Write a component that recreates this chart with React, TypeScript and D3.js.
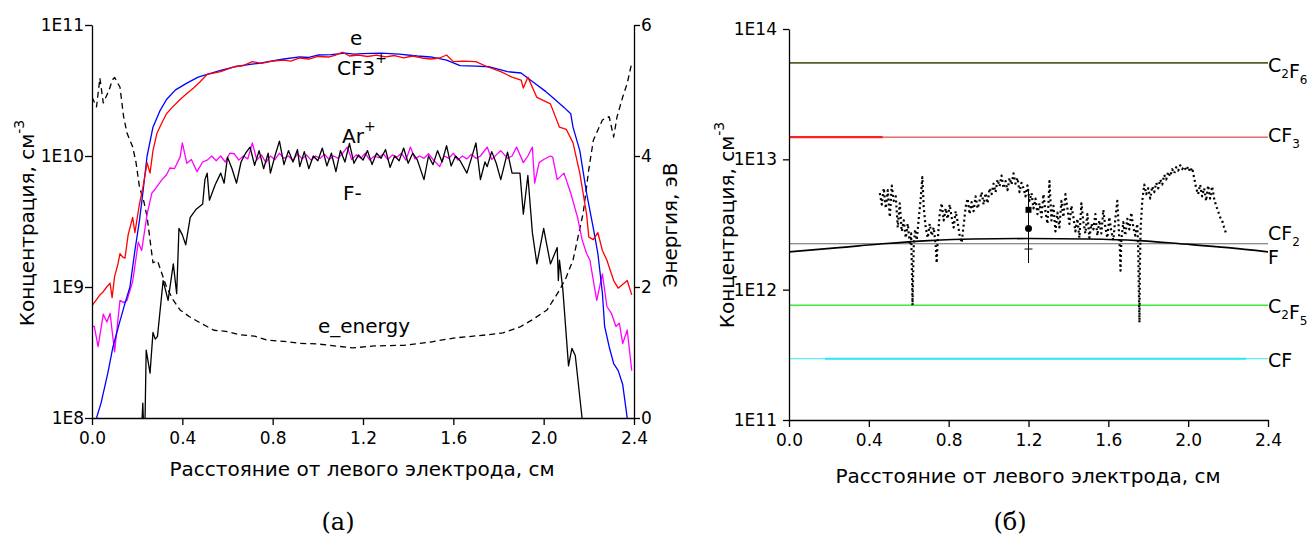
import React, { useEffect, useRef } from 'react';
import * as d3 from 'd3';

type Pt = [number, number];

const FONT = '"DejaVu Sans", "Liberation Sans", Arial, sans-serif';

// shared x axis (distance from left electrode, cm)
const X_TICKS = [0, 0.4, 0.8, 1.2, 1.6, 2.0, 2.4];
const X_MINOR_TICKS = [0.2, 0.6, 1.0, 1.4, 1.8, 2.2];

// panel (a)
const CONC_TICKS_A = [1e8, 1e9, 1e10, 1e11];
const ENERGY_TICKS = [0, 2, 4, 6];
const ENERGY_MINOR_TICKS = [1, 3, 5];

// electrons, cm^-3
const electrons: Pt[] = [
  [0.02, 1.0e8], [0.04, 1.3e8], [0.07, 2.2e8], [0.093, 3.5e8], [0.12, 5.2e8], [0.145, 7.4e8],
  [0.168, 1.0e9], [0.19, 1.9e9], [0.21, 3.2e9], [0.225, 5.2e9], [0.244, 1.0e10], [0.27, 1.66e10],
  [0.3, 2.2e10], [0.33, 2.7e10], [0.37, 3.2e10], [0.42, 3.6e10], [0.47, 4.0e10], [0.51, 4.2e10],
  [0.57, 4.5e10], [0.63, 4.8e10], [0.7, 5.0e10], [0.74, 5.1e10], [0.78, 5.25e10], [0.85, 5.5e10],
  [0.92, 5.7e10], [0.96, 5.65e10], [1.0, 5.9e10], [1.06, 5.95e10], [1.12, 6.1e10], [1.16, 6.0e10],
  [1.2, 6.05e10], [1.28, 6.1e10], [1.36, 6.0e10], [1.44, 5.8e10], [1.5, 5.7e10], [1.57, 5.4e10],
  [1.63, 4.9e10], [1.7, 4.85e10], [1.76, 4.8e10], [1.84, 4.4e10], [1.9, 4.3e10], [1.95, 3.7e10],
  [2.01, 3.1e10], [2.04, 2.8e10], [2.09, 2.35e10], [2.12, 2.1e10], [2.13, 1.66e10], [2.16, 1.1e10],
  [2.19, 5.2e9], [2.22, 2.8e9], [2.24, 1.8e9], [2.26, 9e8], [2.27, 5e8], [2.29, 3.5e8],
  [2.31, 2.6e8], [2.33, 2.3e8], [2.35, 1.8e8], [2.37, 1.0e8], [2.38, 8e7],
];

// CF3+ ions
const cf3Ions: Pt[] = [
  [0.0, 7.2e8], [0.02, 8.0e8], [0.035, 8.7e8], [0.05, 9.2e8], [0.065, 1.0e9], [0.08, 1.07e9],
  [0.089, 8.3e8], [0.1, 1.2e9], [0.115, 1.5e9], [0.124, 1.8e9], [0.135, 1.7e9], [0.146, 1.66e9],
  [0.16, 2.5e9], [0.18, 3.4e9], [0.19, 2.6e9], [0.21, 4.3e9], [0.226, 5.8e9], [0.244, 8.9e9],
  [0.257, 7.4e9], [0.27, 1.1e10], [0.288, 1.5e10], [0.31, 1.8e10], [0.33, 2.1e10], [0.35, 2.3e10],
  [0.39, 2.7e10], [0.42, 3.0e10], [0.45, 3.3e10], [0.48, 3.7e10], [0.51, 4.2e10], [0.57, 4.4e10],
  [0.6, 4.6e10], [0.63, 4.8e10], [0.67, 4.9e10], [0.71, 5.25e10], [0.75, 5.1e10], [0.8, 5.3e10],
  [0.85, 5.4e10], [0.88, 5.3e10], [0.92, 5.6e10], [0.96, 5.5e10], [1.0, 5.75e10], [1.05, 5.7e10],
  [1.08, 5.9e10], [1.11, 6.2e10], [1.14, 5.8e10], [1.18, 5.9e10], [1.22, 5.75e10], [1.26, 5.9e10],
  [1.3, 5.7e10], [1.34, 5.85e10], [1.38, 5.6e10], [1.42, 5.8e10], [1.46, 5.6e10], [1.5, 5.5e10],
  [1.54, 5.6e10], [1.57, 5.9e10], [1.6, 5.25e10], [1.64, 5.3e10], [1.7, 5.25e10], [1.75, 4.8e10],
  [1.81, 4.4e10], [1.86, 4.0e10], [1.9, 3.8e10], [1.91, 3.3e10], [1.93, 4.0e10], [1.97, 2.8e10],
  [2.03, 2.5e10], [2.07, 1.66e10], [2.1, 1.6e10], [2.13, 1.26e10], [2.16, 7.4e9], [2.19, 3.6e9],
  [2.2, 2.4e9], [2.22, 2.3e9], [2.24, 2.6e9], [2.26, 1.9e9], [2.28, 1.6e9], [2.31, 1.12e9],
  [2.33, 9.8e8], [2.37, 1.12e9], [2.39, 8.7e8],
];

// Ar+ ions
const arIons: Pt[] = [
  [0.0, 5.0e8], [0.01, 5.0e8], [0.027, 3.5e8], [0.05, 6.2e8], [0.066, 5.4e8], [0.08, 6.3e8],
  [0.1, 3.2e8], [0.124, 7.9e8], [0.14, 7.6e8], [0.155, 7.9e8], [0.18, 1.1e9], [0.205, 2.2e9],
  [0.22, 1.9e9], [0.244, 3.6e9], [0.265, 5.2e9], [0.28, 5.6e9], [0.31, 6.6e9], [0.33, 7.2e9],
  [0.345, 8.1e9], [0.365, 8.0e9], [0.39, 9.8e9], [0.4, 1.26e10], [0.42, 8.8e9], [0.44, 9.4e9],
  [0.465, 7.6e9], [0.49, 9.0e9], [0.51, 9.3e9], [0.53, 1.0e10], [0.55, 9.2e9], [0.57, 1.0e10],
  [0.59, 9.0e9], [0.61, 1.05e10], [0.63, 1.04e10], [0.65, 9.3e9], [0.67, 1.0e10], [0.69, 9.5e9],
  [0.71, 1.26e10], [0.73, 9.3e9], [0.75, 1.02e10], [0.77, 8.9e9], [0.79, 1.0e10], [0.81, 9.4e9],
  [0.83, 1.05e10], [0.85, 9.6e9], [0.87, 1.0e10], [0.89, 9.2e9], [0.91, 1.04e10], [0.93, 9.5e9],
  [0.95, 1.02e10], [0.97, 9.3e9], [0.99, 1.0e10], [1.01, 9.6e9], [1.03, 1.03e10], [1.05, 9.4e9],
  [1.07, 1.0e10], [1.09, 9.6e9], [1.11, 1.05e10], [1.13, 1.17e10], [1.15, 9.4e9], [1.17, 1.02e10],
  [1.19, 9.6e9], [1.21, 1.05e10], [1.23, 9.3e9], [1.25, 1.0e10], [1.27, 9.7e9], [1.29, 1.04e10],
  [1.31, 9.4e9], [1.33, 1.02e10], [1.35, 9.8e9], [1.37, 1.05e10], [1.39, 9.3e9], [1.41, 1.17e10],
  [1.43, 9.5e9], [1.45, 1.0e10], [1.47, 9.6e9], [1.49, 1.04e10], [1.51, 9.4e9], [1.54, 8.3e9],
  [1.56, 1.0e10], [1.58, 9.6e9], [1.6, 1.05e10], [1.62, 9.3e9], [1.64, 1.0e10], [1.66, 9.5e9],
  [1.68, 1.03e10], [1.7, 9.6e9], [1.72, 1.0e10], [1.75, 1.17e10], [1.77, 9.4e9], [1.79, 1.02e10],
  [1.81, 1.1e10], [1.84, 9.6e9], [1.86, 1.0e10], [1.88, 1.17e10], [1.91, 8.9e9], [1.93, 1.0e10],
  [1.95, 1.17e10], [1.96, 6.2e9], [1.98, 8.9e9], [2.0, 9.4e9], [2.03, 1.0e10], [2.04, 9.8e9],
  [2.06, 6.6e9], [2.09, 7.4e9], [2.12, 5.2e9], [2.15, 3.4e9], [2.17, 2.3e9], [2.19, 1.8e9],
  [2.205, 1.6e9], [2.22, 1.12e9], [2.235, 7.9e8], [2.26, 1.26e9], [2.28, 7.1e8], [2.3, 6.3e8],
  [2.32, 5.0e8], [2.335, 5.3e8], [2.35, 3.7e8], [2.37, 4.7e8], [2.39, 2.3e8],
];

// F- ions
const fIons: Pt[] = [
  [0.215, 6e7], [0.222, 1.0e8], [0.225, 1.3e8], [0.228, 9e7], [0.235, 1.0e8], [0.24, 3.3e8],
  [0.257, 2.2e8], [0.27, 4.5e8], [0.28, 4.0e8], [0.29, 4.2e8], [0.315, 1.12e9], [0.337, 7.9e8],
  [0.36, 1.5e9], [0.375, 8.9e8], [0.385, 2.8e9], [0.4, 2.5e9], [0.415, 2.1e9], [0.435, 3.4e9],
  [0.46, 3.9e9], [0.49, 4.3e9], [0.5, 6.6e9], [0.51, 7.4e9], [0.52, 4.6e9], [0.545, 6.0e9],
  [0.57, 7.4e9], [0.585, 6.2e9], [0.6, 9.8e9], [0.62, 8.0e9], [0.64, 6.2e9], [0.66, 9.0e9],
  [0.68, 1.05e10], [0.7, 1.17e10], [0.72, 8.5e9], [0.74, 1.1e10], [0.76, 8.0e9], [0.78, 1.05e10],
  [0.79, 7.4e9], [0.81, 1.0e10], [0.83, 1.3e10], [0.85, 8.6e9], [0.87, 1.1e10], [0.89, 9.0e9],
  [0.91, 1.12e10], [0.92, 8.3e9], [0.94, 1.08e10], [0.96, 8.0e9], [0.98, 1.0e10], [1.0, 9.2e9],
  [1.02, 1.15e10], [1.04, 8.4e9], [1.06, 1.05e10], [1.08, 7.6e9], [1.1, 1.1e10], [1.12, 9.0e9],
  [1.14, 1.25e10], [1.16, 8.8e9], [1.18, 1.02e10], [1.2, 9.3e9], [1.22, 1.1e10], [1.24, 8.6e9],
  [1.26, 1.05e10], [1.28, 9.6e9], [1.3, 1.12e10], [1.32, 8.2e9], [1.34, 1.0e10], [1.36, 9.2e9],
  [1.38, 1.15e10], [1.4, 8.8e9], [1.42, 1.05e10], [1.44, 9.4e9], [1.47, 6.6e9], [1.49, 1.0e10],
  [1.51, 8.6e9], [1.53, 1.1e10], [1.55, 9.0e9], [1.57, 1.2e10], [1.59, 8.4e9], [1.61, 1.0e10],
  [1.63, 9.2e9], [1.66, 7.4e9], [1.68, 9.6e9], [1.7, 1.26e10], [1.72, 6.6e9], [1.74, 9.0e9],
  [1.75, 8.3e9], [1.77, 1.08e10], [1.79, 8.8e9], [1.81, 6.6e9], [1.84, 1.07e10], [1.86, 7.4e9],
  [1.895, 7.4e9], [1.91, 3.6e9], [1.93, 7.1e9], [1.95, 2.6e9], [1.97, 1.5e9], [2.0, 2.8e9],
  [2.03, 1.5e9], [2.06, 2.0e9], [2.065, 1.12e9], [2.07, 1.6e9], [2.085, 9.5e8], [2.11, 2.5e8],
  [2.125, 3.4e8], [2.14, 3.0e8], [2.17, 1.0e8], [2.19, 5e7],
];

// mean electron energy, eV (right axis)
const electronEnergy: Pt[] = [
  [0.0, 4.9], [0.02, 4.75], [0.035, 5.19], [0.05, 4.81], [0.075, 5.0], [0.09, 5.16], [0.1, 5.2],
  [0.124, 5.05], [0.14, 4.6], [0.155, 4.35], [0.18, 4.14], [0.195, 3.9], [0.21, 3.53], [0.23, 3.3],
  [0.244, 3.07], [0.27, 2.37], [0.29, 2.4], [0.33, 2.0], [0.36, 1.8], [0.39, 1.65], [0.43, 1.55],
  [0.48, 1.45], [0.54, 1.34], [0.6, 1.32], [0.655, 1.27], [0.72, 1.25], [0.775, 1.19], [0.85, 1.17],
  [0.92, 1.14], [1.0, 1.13], [1.05, 1.11], [1.155, 1.07], [1.25, 1.1], [1.38, 1.11], [1.5, 1.16],
  [1.6, 1.22], [1.75, 1.27], [1.82, 1.3], [1.895, 1.39], [1.95, 1.5], [2.015, 1.65], [2.07, 1.95],
  [2.1, 2.15], [2.13, 2.41], [2.175, 3.13], [2.2, 3.8], [2.22, 4.24], [2.26, 4.55], [2.29, 4.6],
  [2.31, 4.29], [2.325, 4.6], [2.35, 4.9], [2.37, 5.11], [2.39, 5.42],
];

// panel (б)
const CONC_TICKS_B = [1e11, 1e12, 1e13, 1e14];

const LEVEL_C2F6 = 5.5e13;
const LEVEL_CF3 = 1.48e13;
const LEVEL_CF2 = 2.25e12;
const LEVEL_C2F5 = 7.6e11;
const LEVEL_CF = 2.95e11;

const fAtoms: Pt[] = [
  [0.0, 1.95e12], [0.25, 2.1e12], [0.47, 2.25e12], [0.7, 2.38e12], [0.92, 2.45e12], [1.2, 2.47e12],
  [1.5, 2.45e12], [1.75, 2.38e12], [1.96, 2.25e12], [2.2, 2.1e12], [2.4, 1.95e12],
];

// measured points (dotted)
const measured: Pt[] = [
  [0.455, 5.5e12], [0.465, 4.5e12], [0.475, 6.0e12], [0.485, 4.2e12], [0.495, 5.8e12], [0.505, 3.6e12],
  [0.515, 6.3e12], [0.525, 4.8e12], [0.535, 5.2e12], [0.545, 3.0e12], [0.555, 4.6e12], [0.565, 2.8e12],
  [0.575, 3.4e12], [0.585, 2.5e12], [0.595, 3.2e12], [0.605, 2.3e12], [0.612, 2.7e12], [0.615, 1.6e12],
  [0.617, 1.1e12], [0.619, 7.6e11], [0.622, 1.3e12], [0.625, 2.2e12], [0.632, 2.9e12], [0.64, 2.4e12],
  [0.65, 3.5e12], [0.66, 5.0e12], [0.668, 7.3e12], [0.675, 4.3e12], [0.685, 3.0e12], [0.695, 2.5e12],
  [0.705, 3.2e12], [0.715, 2.6e12], [0.725, 3.0e12], [0.735, 2.2e12], [0.74, 1.6e12], [0.745, 2.4e12],
  [0.755, 3.8e12], [0.765, 4.6e12], [0.775, 3.4e12], [0.785, 4.2e12], [0.795, 3.5e12], [0.805, 4.5e12],
  [0.815, 3.6e12], [0.825, 3.0e12], [0.835, 4.0e12], [0.845, 3.3e12], [0.855, 2.6e12], [0.865, 2.3e12],
  [0.875, 3.1e12], [0.885, 4.3e12], [0.895, 5.0e12], [0.905, 3.8e12], [0.915, 4.7e12], [0.925, 4.0e12],
  [0.935, 5.2e12], [0.945, 4.2e12], [0.955, 4.8e12], [0.965, 5.6e12], [0.975, 4.5e12], [0.985, 5.5e12],
  [0.995, 4.6e12], [1.005, 6.0e12], [1.015, 5.4e12], [1.025, 6.5e12], [1.035, 5.6e12], [1.045, 7.0e12],
  [1.055, 6.2e12], [1.065, 7.5e12], [1.075, 6.0e12], [1.085, 6.8e12], [1.095, 5.8e12], [1.105, 7.2e12],
  [1.115, 6.4e12], [1.125, 7.8e12], [1.135, 6.5e12], [1.145, 7.2e12], [1.155, 5.6e12], [1.165, 6.6e12],
  [1.175, 6.0e12], [1.185, 5.2e12], [1.195, 6.3e12], [1.205, 4.8e12], [1.215, 5.5e12], [1.225, 4.2e12],
  [1.235, 5.0e12], [1.245, 3.8e12], [1.255, 4.6e12], [1.265, 3.6e12], [1.275, 5.4e12], [1.285, 4.0e12],
  [1.295, 3.2e12], [1.305, 6.8e12], [1.315, 3.4e12], [1.325, 4.4e12], [1.335, 2.8e12], [1.345, 3.9e12],
  [1.355, 3.0e12], [1.365, 4.8e12], [1.375, 3.6e12], [1.385, 5.4e12], [1.395, 4.2e12], [1.405, 3.2e12],
  [1.415, 4.4e12], [1.425, 3.6e12], [1.435, 2.8e12], [1.445, 3.5e12], [1.455, 2.5e12], [1.465, 4.6e12],
  [1.475, 3.3e12], [1.485, 2.7e12], [1.495, 3.8e12], [1.505, 2.5e12], [1.515, 3.2e12], [1.525, 2.9e12],
  [1.535, 3.8e12], [1.545, 2.6e12], [1.555, 3.4e12], [1.565, 2.7e12], [1.575, 4.1e12], [1.585, 3.0e12],
  [1.595, 2.5e12], [1.605, 3.6e12], [1.615, 2.8e12], [1.625, 2.4e12], [1.635, 3.5e12], [1.645, 4.8e12],
  [1.652, 3.0e12], [1.658, 2.0e12], [1.661, 1.4e12], [1.665, 2.4e12], [1.675, 3.3e12], [1.685, 2.6e12],
  [1.695, 3.5e12], [1.705, 2.9e12], [1.715, 3.9e12], [1.725, 3.0e12], [1.735, 2.6e12], [1.745, 3.2e12],
  [1.75, 2.0e12], [1.752, 1.2e12], [1.754, 8e11], [1.756, 5.6e11], [1.758, 1.5e12], [1.762, 3.0e12],
  [1.77, 4.8e12], [1.78, 6.4e12], [1.79, 5.4e12], [1.8, 6.0e12], [1.81, 5.0e12], [1.82, 6.2e12],
  [1.83, 5.6e12], [1.84, 6.6e12], [1.85, 6.0e12], [1.86, 7.0e12], [1.87, 6.4e12], [1.88, 7.6e12],
  [1.89, 7.0e12], [1.9, 8.0e12], [1.91, 7.4e12], [1.92, 8.4e12], [1.93, 7.8e12], [1.94, 8.7e12],
  [1.95, 8.2e12], [1.96, 9.0e12], [1.97, 8.4e12], [1.98, 8.8e12], [1.99, 8.2e12], [2.0, 8.8e12],
  [2.01, 8.0e12], [2.02, 8.6e12], [2.03, 7.2e12], [2.04, 6.0e12], [2.05, 5.4e12], [2.06, 6.4e12],
  [2.07, 5.2e12], [2.08, 6.0e12], [2.09, 4.8e12], [2.1, 6.3e12], [2.11, 5.0e12], [2.12, 6.2e12],
  [2.13, 5.0e12], [2.14, 4.4e12], [2.15, 4.0e12], [2.16, 3.6e12], [2.17, 3.4e12], [2.18, 3.0e12],
  [2.19, 2.7e12],
];

// experimental markers at 1.2 cm
const MARK_X = 1.2;
const MARK_SQUARE = 4.1e12;
const MARK_CIRCLE = 2.95e12;
const MARK_ERR_LOW = 1.6e12;
const MARK_ERR_HIGH = 5.8e12;
const MARK_ERR_CAP = 2.05e12;

const isDecade = (v: number) => Math.abs(Math.log10(v) - Math.round(Math.log10(v))) < 1e-6;
const fmtExp = (v: number) => '1E' + Math.round(Math.log10(v));

function styleAxis(g: any, size = 17) {
  g.attr('font-family', FONT).attr('font-size', size);
  g.select('.domain').attr('stroke', '#000').attr('stroke-width', 1.3);
  g.selectAll('.tick line').attr('stroke', '#000').attr('stroke-width', 1.3);
  g.selectAll('.tick text').attr('fill', '#000');
}

function App() {
  const ref = useRef<SVGSVGElement>(null);

  useEffect(() => {
    const svg = d3.select(ref.current);
    svg.selectAll('*').remove();

    const path = (g: any, data: Pt[], x: any, y: any, color: string, width: number, dash?: string) => {
      const line = d3.line<Pt>().x(d => x(d[0])).y(d => y(d[1]));
      const p = g.append('path').datum(data)
        .attr('fill', 'none').attr('stroke', color).attr('stroke-width', width)
        .attr('stroke-linejoin', 'round').attr('d', line);
      if (dash) p.attr('stroke-dasharray', dash);
      return p;
    };

    // ---------- panel (a) ----------
    const xA = d3.scaleLinear().domain([0, 2.4]).range([92, 634]);
    const yA = d3.scaleLog().domain([1e8, 1e11]).range([418, 25]);
    const eA = d3.scaleLinear().domain([0, 6]).range([418, 25]);

    svg.append('clipPath').attr('id', 'clipA').append('rect')
      .attr('x', 92).attr('y', 25).attr('width', 542).attr('height', 393);
    const plotA = svg.append('g').attr('clip-path', 'url(#clipA)');
    path(plotA, electronEnergy, xA, eA, '#000', 1.3, '6,4');
    path(plotA, arIons, xA, yA, '#ff00ff', 1.3);
    path(plotA, fIons, xA, yA, '#000', 1.3);
    path(plotA, electrons, xA, yA, '#0000ff', 1.3);
    path(plotA, cf3Ions, xA, yA, '#ff0000', 1.3);

    const minorA = yA.ticks().filter(v => !isDecade(v));
    const gxA = svg.append('g').attr('transform', 'translate(0,418)');
    gxA.call(d3.axisBottom(xA).tickValues(X_MINOR_TICKS).tickSize(4).tickSizeOuter(0).tickFormat(() => ''));
    gxA.call(d3.axisBottom(xA).tickValues(X_TICKS).tickSize(7).tickPadding(7).tickSizeOuter(0).tickFormat(d3.format('.1f')));
    styleAxis(gxA);
    const gyA = svg.append('g').attr('transform', 'translate(92,0)');
    gyA.call(d3.axisLeft(yA).tickValues(minorA).tickSize(4).tickSizeOuter(0).tickFormat(() => ''));
    gyA.call(d3.axisLeft(yA).tickValues(CONC_TICKS_A).tickSize(7).tickPadding(1).tickSizeOuter(0).tickFormat(fmtExp as any));
    styleAxis(gyA);
    const geA = svg.append('g').attr('transform', 'translate(634,0)');
    geA.call(d3.axisRight(eA).tickValues(ENERGY_MINOR_TICKS).tickSize(4).tickSizeOuter(0).tickFormat(() => ''));
    geA.call(d3.axisRight(eA).tickValues(ENERGY_TICKS).tickSize(6).tickPadding(1).tickSizeOuter(0).tickFormat(d3.format('d')));
    styleAxis(geA);

    const t = (x: number, y: number, s: string, size = 20) =>
      svg.append('text').attr('x', x).attr('y', y).attr('font-family', FONT)
        .attr('font-size', size).attr('fill', '#000').text(s);

    t(350, 45, 'e');
    t(337, 75, 'CF3').append('tspan').attr('dy', -12).attr('font-size', 14).text('+');
    t(342, 143, 'Ar').append('tspan').attr('dy', -12).attr('font-size', 14).text('+');
    t(343, 200, 'F-');
    t(318, 333, 'e_energy');

    const xTitle = (cx: number, y: number) =>
      t(cx, y, 'Расстояние от левого электрода, см').attr('text-anchor', 'middle');
    xTitle(362, 476);

    const concTitle = (x: number, y: number) => {
      const tt = svg.append('text').attr('transform', `translate(${x},${y}) rotate(-90)`)
        .attr('text-anchor', 'middle').attr('font-family', FONT).attr('font-size', 20).attr('fill', '#000');
      tt.append('tspan').text('Концентрация, см');
      tt.append('tspan').attr('dy', -10).attr('font-size', 14).text('-3');
    };
    concTitle(34, 223);

    svg.append('text').attr('transform', 'translate(677,225) rotate(-90)')
      .attr('text-anchor', 'middle').attr('font-family', FONT).attr('font-size', 20)
      .attr('fill', '#000').text('Энергия, эВ');

    // ---------- panel (б) ----------
    const xB = d3.scaleLinear().domain([0, 2.4]).range([789, 1268]);
    const yB = d3.scaleLog().domain([1e11, 1e14]).range([420, 29]);

    svg.append('clipPath').attr('id', 'clipB').append('rect')
      .attr('x', 789).attr('y', 29).attr('width', 479).attr('height', 391);
    const plotB = svg.append('g').attr('clip-path', 'url(#clipB)');
    const level = (v: number, a: number, b: number): Pt[] => [[a, v], [b, v]];
    path(plotB, level(LEVEL_C2F6, 0, 2.4), xB, yB, '#5a5a28', 1.8);
    path(plotB, level(LEVEL_CF3, 0, 0.47), xB, yB, '#ff2020', 2.4);
    path(plotB, level(LEVEL_CF3, 0.47, 2.4), xB, yB, '#d82020', 1);
    path(plotB, level(LEVEL_C2F5, 0, 2.4), xB, yB, '#3ee83e', 1.4);
    path(plotB, level(LEVEL_CF, 0, 2.4), xB, yB, '#33e6f0', 1.1);
    path(plotB, level(LEVEL_CF, 0.18, 2.29), xB, yB, '#33e6f0', 2);
    path(plotB, level(LEVEL_CF2, 0, 2.4), xB, yB, '#666', 1.1);
    const fLine = d3.line<Pt>().x(d => xB(d[0])).y(d => yB(d[1])).curve(d3.curveMonotoneX);
    plotB.append('path').datum(fAtoms).attr('fill', 'none').attr('stroke', '#000')
      .attr('stroke-width', 1.6).attr('d', fLine);
    path(plotB, measured, xB, yB, '#000', 2.2, '2,3');

    // markers
    const mx = xB(MARK_X);
    plotB.append('line').attr('x1', mx).attr('x2', mx)
      .attr('y1', yB(MARK_ERR_HIGH)).attr('y2', yB(MARK_ERR_LOW)).attr('stroke', '#000').attr('stroke-width', 1);
    plotB.append('line').attr('x1', mx - 4).attr('x2', mx + 4)
      .attr('y1', yB(MARK_ERR_CAP)).attr('y2', yB(MARK_ERR_CAP)).attr('stroke', '#000').attr('stroke-width', 1);
    plotB.append('rect').attr('x', mx - 3).attr('y', yB(MARK_SQUARE) - 3)
      .attr('width', 6).attr('height', 6).attr('fill', '#000');
    plotB.append('circle').attr('cx', mx).attr('cy', yB(MARK_CIRCLE)).attr('r', 3.5).attr('fill', '#000');

    const minorB = yB.ticks().filter(v => !isDecade(v));
    const gxB = svg.append('g').attr('transform', 'translate(0,420)');
    gxB.call(d3.axisBottom(xB).tickValues(X_MINOR_TICKS).tickSize(4).tickSizeOuter(0).tickFormat(() => ''));
    gxB.call(d3.axisBottom(xB).tickValues(X_TICKS).tickSize(7).tickPadding(7).tickSizeOuter(0).tickFormat(d3.format('.1f')));
    styleAxis(gxB);
    const gyB = svg.append('g').attr('transform', 'translate(789,0)');
    gyB.call(d3.axisLeft(yB).tickValues(minorB).tickSize(4).tickSizeOuter(0).tickFormat(() => ''));
    gyB.call(d3.axisLeft(yB).tickValues(CONC_TICKS_B).tickSize(6).tickPadding(6).tickSizeOuter(0).tickFormat(fmtExp as any));
    styleAxis(gyB);

    // species labels
    const species = (y: number, parts: [string, boolean][]) => {
      const tt = t(1268, y, '', 19);
      parts.forEach(([s, sub]) => {
        tt.append('tspan').attr('dy', sub ? 6 : 0).attr('font-size', sub ? 12 : 19).text(s);
        if (sub) tt.append('tspan').attr('dy', -6).text('');
      });
    };
    species(72, [['C', false], ['2', true], ['F', false], ['6', true]]);
    species(142, [['CF', false], ['3', true]]);
    species(240, [['CF', false], ['2', true]]);
    species(264, [['F', false]]);
    species(313, [['C', false], ['2', true], ['F', false], ['5', true]]);
    species(367, [['CF', false]]);

    xTitle(1028, 483);
    concTitle(734, 225);

    // panel captions
    const cap = (x: number, s: string) =>
      svg.append('text').attr('x', x).attr('y', 530).attr('text-anchor', 'middle')
        .attr('font-family', '"DejaVu Serif", "Liberation Serif", serif').attr('font-size', 24)
        .attr('fill', '#000').text(s);
    cap(338, '(a)');
    cap(1010, '(б)');
  }, []);

  return (
    <svg ref={ref} width={1311} height={538}
      style={{ position: 'absolute', left: 0, top: 0, background: '#fff' }} />
  );
}

export default App;
